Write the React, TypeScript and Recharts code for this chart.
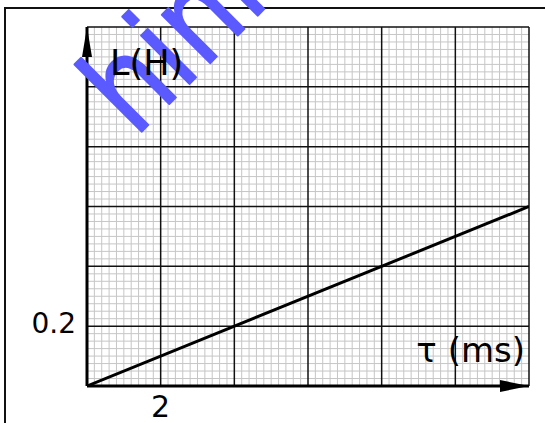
import React from 'react';
import { LineChart, Line, XAxis, YAxis, ReferenceLine, Label } from 'recharts';

// Inductance L (H) versus time constant tau (ms)
const tauMs = [0, 12];
const inductanceH = [0, 0.6];

const xTickValues = [2];
const yTickValues = [0.2];
const xMajorLines = [2, 4, 6, 8, 10, 12];
const yMajorLines = [0.2, 0.4, 0.6, 0.8, 1.0, 1.2];
const xDomain = [0, 12];
const yDomain = [0, 1.2];

// graph-paper fine rulings: 10 per major column, 8 per major row
const xMinorLines = Array.from({ length: 59 }, (_, i) => i + 1)
  .filter((k) => k % 10 !== 0)
  .map((k) => k * 0.2);
const yMinorLines = Array.from({ length: 47 }, (_, i) => i + 1)
  .filter((k) => k % 8 !== 0)
  .map((k) => k * 0.025);

const data = tauMs.map((t, i) => ({ tau: t, L: inductanceH[i] }));

const FONT = "'DejaVu Sans', Verdana, sans-serif";
const watermarkText = 'hinh';

const XTick = (props: any) => {
  const { x, y, payload } = props;
  return (
    <text x={x} y={y + 31} textAnchor="middle" fontSize={30} fontFamily={FONT} fill="#000">
      {payload.value}
    </text>
  );
};

const YTick = (props: any) => {
  const { x, y, payload } = props;
  return (
    <text x={x - 11} y={y + 7} textAnchor="end" fontSize={28} fontFamily={FONT} fill="#000">
      {payload.value}
    </text>
  );
};

// arrowhead, stamp and axis title on the vertical axis
const YAxisDecor = (props: any) => {
  const { x, y, width } = props.viewBox;
  const ax = x + width;
  return (
    <g>
      <polygon points={`${ax},${y} ${ax - 5},${y + 30} ${ax + 5},${y + 30}`} fill="#000" />
      <text
        x={0}
        y={0}
        transform={`translate(${ax + 47.7},${y + 111.6}) rotate(-45) scale(0.85,1)`}
        fontSize={125}
        fontFamily={FONT}
        fill="#5a5aff"
        stroke="#5a5aff"
        strokeWidth={2}
        strokeLinejoin="round"
      >
        {watermarkText}
      </text>
      <text x={ax + 23} y={y + 48} fontSize={35} fontFamily={FONT} fill="#000">
        L(H)
      </text>
    </g>
  );
};

const XAxisDecor = (props: any) => {
  const { x, y, width } = props.viewBox;
  const right = x + width;
  return (
    <g>
      <polygon points={`${right},${y} ${right - 29},${y - 6} ${right - 29},${y + 6}`} fill="#000" />
      <text x={right - 4} y={y - 24} textAnchor="end" fontSize={34} fontFamily={FONT} fill="#000">
        τ (ms)
      </text>
    </g>
  );
};

export default function App() {
  return (
    <div style={{ position: 'absolute', left: 0, top: 0, width: 545, height: 423, background: '#fff' }}>
      <div
        style={{
          position: 'absolute',
          left: 4,
          top: 7,
          width: 541,
          height: 416,
          borderTop: '2px solid #111',
          borderLeft: '2px solid #111',
          boxSizing: 'border-box',
        }}
      />
      <div style={{ position: 'absolute', left: 0, top: 0 }}>
        <LineChart width={545} height={423} data={data} margin={{ top: 27, right: 16, bottom: 0, left: 0 }}>
          {xMinorLines.map((v) => (
            <ReferenceLine key={`xm${v}`} x={v} stroke="#c6c6c6" strokeWidth={1} />
          ))}
          {yMinorLines.map((v) => (
            <ReferenceLine key={`ym${v}`} y={v} stroke="#c6c6c6" strokeWidth={1} />
          ))}
          {xMajorLines.map((v) => (
            <ReferenceLine key={`xM${v}`} x={v} stroke="#111" strokeWidth={1.5} />
          ))}
          {yMajorLines.map((v) => (
            <ReferenceLine key={`yM${v}`} y={v} stroke="#111" strokeWidth={1.5} />
          ))}
          <XAxis
            type="number"
            dataKey="tau"
            domain={xDomain}
            ticks={xTickValues}
            height={37}
            tickSize={0}
            tickMargin={0}
            tickLine={false}
            axisLine={{ stroke: '#000', strokeWidth: 3 }}
            tick={XTick}
            allowDataOverflow
          >
            <Label content={XAxisDecor} />
          </XAxis>
          <YAxis
            type="number"
            domain={yDomain}
            ticks={yTickValues}
            width={87}
            tickSize={0}
            tickMargin={0}
            tickLine={false}
            axisLine={{ stroke: '#000', strokeWidth: 3 }}
            tick={YTick}
            allowDataOverflow
          >
            <Label content={YAxisDecor} />
          </YAxis>
          <Line
            dataKey="L"
            stroke="#000"
            strokeWidth={3}
            dot={false}
            activeDot={false}
            isAnimationActive={false}
          />
        </LineChart>
      </div>
    </div>
  );
}
